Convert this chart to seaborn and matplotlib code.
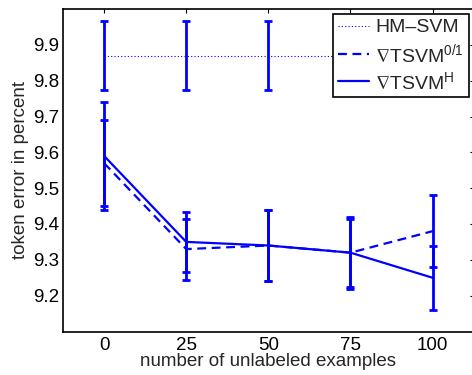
import numpy as np
import pandas as pd
import matplotlib
matplotlib.use("Agg")
import matplotlib.pyplot as plt
from matplotlib.lines import Line2D
import seaborn as sns

# data
n_unlabeled = [0, 25, 50, 75, 100]
hm_svm = [9.87, 9.87, 9.87, 9.87, 9.87]
hm_svm_err = [0.097, 0.097, 0.097, 0.097, 0.097]
tsvm01 = [9.57, 9.33, 9.34, 9.32, 9.38]
tsvm01_err = [0.12, 0.085, 0.10, 0.095, 0.10]
tsvmh = [9.59, 9.35, 9.34, 9.32, 9.25]
tsvmh_err = [0.15, 0.083, 0.10, 0.10, 0.09]
labels = ["HM\u2013SVM", r"$\nabla$TSVM$^{0/1}$", r"$\nabla$TSVM$^{H}$"]

sns.set_style("white")
plt.rcParams["font.family"] = ["Liberation Sans", "DejaVu Sans"]
plt.rcParams["mathtext.fontset"] = "custom"
plt.rcParams["mathtext.rm"] = "Liberation Sans"
plt.rcParams["mathtext.it"] = "Liberation Sans"
plt.rcParams["mathtext.fallback"] = "stixsans"

df = pd.DataFrame({
    "x": n_unlabeled * 3,
    "y": hm_svm + tsvm01 + tsvmh,
    "method": [labels[0]] * 5 + [labels[1]] * 5 + [labels[2]] * 5,
})

blue = "#0000ff"
fig = plt.figure(figsize=(4.72, 3.75), dpi=100)
ax = fig.add_axes([0.1335, 0.116, 0.87, 0.86])

sns.lineplot(data=df, x="x", y="y", hue="method", style="method",
             palette=[blue, blue, blue],
             dashes={labels[0]: (1, 2), labels[1]: (4, 2.5), labels[2]: ""},
             ax=ax, legend=False)
ax.lines[0].set_linewidth(0.8)
ax.lines[1].set_linewidth(1.6)
ax.lines[2].set_linewidth(1.6)

for vals, errs in [(hm_svm, hm_svm_err), (tsvm01, tsvm01_err), (tsvmh, tsvmh_err)]:
    ax.errorbar(n_unlabeled, vals, yerr=errs, fmt="none", ecolor=blue,
                elinewidth=2, capsize=2.6, capthick=2)

ax.set_xlim(-12.5, 112.5)
ax.set_ylim(9.1, 10.0)
ax.set_xticks(n_unlabeled)
ax.set_yticks([9.2, 9.3, 9.4, 9.5, 9.6, 9.7, 9.8, 9.9])
ax.set_yticklabels(["9.2", "9.3", "9.4", "9.5", "9.6", "9.7", "9.8", "9.9"])
ax.tick_params(direction="in", top=True, right=True, length=3, width=0.8,
               labelsize=13.5, colors="black")
ax.tick_params(axis="y", pad=3)
ax.tick_params(axis="x", pad=4)
for s in ax.spines.values():
    s.set_linewidth(1.2)
    s.set_color("black")
ax.set_xlabel("number of unlabeled examples", fontsize=13.5, labelpad=-1)
ax.set_ylabel("token error in percent", fontsize=13.5, labelpad=3)

handles = [
    Line2D([], [], color=blue, lw=0.8, dashes=(1, 2)),
    Line2D([], [], color=blue, lw=1.6, dashes=(4, 2.5)),
    Line2D([], [], color=blue, lw=1.6),
]
leg = ax.legend(handles, labels, loc="upper right", bbox_to_anchor=(0.988, 0.985),
                fontsize=14, frameon=True, fancybox=False, framealpha=1,
                edgecolor="black", handlelength=1.6, handletextpad=0.3,
                borderpad=0.25, labelspacing=0.3, borderaxespad=0)
leg.get_frame().set_linewidth(1.2)

plt.savefig("out.png", dpi=100)
plt.close()
